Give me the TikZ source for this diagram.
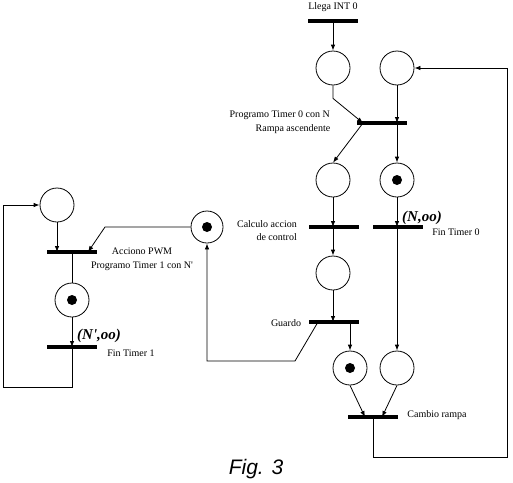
\documentclass[tikz,border=0pt]{standalone}
\usepackage{fontspec}
\setmainfont{Liberation Serif}
\newfontfamily\figfont{Liberation Sans}
\usetikzlibrary{arrows.meta,calc}
\begin{document}
\begin{tikzpicture}[x=1pt,y=-1pt,
 place/.style={circle,draw,line width=0.8pt,minimum size=34pt,inner sep=0pt},
 tok/.style={circle,fill,minimum size=10pt,inner sep=0pt},
 trans/.style={fill,minimum width=50pt,minimum height=3.6pt,inner sep=0pt},
 arr/.style={-{Latex[length=6pt,width=4.5pt]},line width=0.8pt},
 ln/.style={line width=0.8pt},
 lbl/.style={font=\fontsize{10}{11}\selectfont,inner sep=0pt},
 big/.style={font=\fontsize{15}{16}\selectfont\bfseries\itshape,inner sep=0pt}]
\useasboundingbox (0,0) rectangle (513,482);
% transitions
\node[trans] (T1) at (333,21) {};
\node[trans] (T2) at (382,123) {};
\node[trans] (T3) at (334,227) {};
\node[trans] (T4) at (398,227) {};
\node[trans] (T5) at (334,322) {};
\node[trans] (T6) at (373,417) {};
\node[trans] (T7) at (72,252) {};
\node[trans] (T8) at (72,347) {};
% places
\node[place] (P1) at (333,68) {};
\node[place] (P2) at (397,68) {};
\node[place] (P3) at (333,180) {};
\node[place] (P4) at (397,180) {};
\node[tok] (P4t) at (P4) {};
\node[place] (P5) at (333,273) {};
\node[place] (P6) at (350,368) {};
\node[tok] (P6t) at (P6) {};
\node[place] (P7) at (397,368) {};
\node[place,minimum size=32pt] (PC) at (207,227) {};
\node[tok] (PCt) at (PC) {};
\node[place] (P8) at (57,205) {};
\node[place] (P9) at (72,300) {};
\node[tok] (P9t) at (P9) {};
% helper coordinates
\coordinate (rc) at (507,457);
\coordinate (g1) at (295,361);
\coordinate (c1) at (105,227);
\coordinate (lc) at (3,387);
% connectors
\draw[arr] (T1.center) -- (P1.north);
\draw[arr] (P1.south) -- ++(0,13) -- ([xshift=-19pt]T2.center);
\draw[arr] (P2.south) -- (P2.south |- T2.center);
\draw[arr] ([xshift=-19pt]T2.center) -- (P3.north);
\draw[arr] (P4.north |- T2.center) -- (P4.north);
\draw[arr] (P3.south) -- (P3.south |- T3.center);
\draw[arr] (P4.south) -- (P4.south |- T4.center);
\draw[arr] (P5.north |- T3.center) -- (P5.north);
\draw[arr] (P5.south) -- (P5.south |- T5.center);
\draw[arr] (P7.north |- T4.center) -- (P7.north);
\draw[arr] (P6.north |- T5.center) -- (P6.north);
\draw[arr] (P6.south) -- ([xshift=-8pt]T6.center);
\draw[arr] (P7.south) -- ([xshift=9pt]T6.center);
\draw[arr] (T6.center) |- (rc) |- (P2.east);
\draw[arr] ([xshift=-16pt]T5.center) -- (g1) -| (PC.south);
\draw[arr] (PC.west) -- (c1) -- ([xshift=16pt]T7.center);
\draw[arr] (P8.south) -- (P8.south |- T7.center);
\draw[ln] (T7.center) -- (P9.north);
\draw[arr] (P9.south) -- (P9.south |- T8.center);
\draw[arr] (T8.center) |- (lc) |- (P8.west);
% labels
\node[lbl] (L1) at (333,7) {Llega INT 0};
\node[lbl,anchor=east] (L2) at (330,115) {Programo Timer 0 con N};
\node[lbl] (L3) at (293,129) {Rampa ascendente};
\node[lbl,anchor=east] (L4) at (297,224) {Calculo accion};
\node[lbl,anchor=east] (L5) at (297,237) {de control};
\node[big,anchor=west] (L6) at (402,218) {(N,oo)};
\node[lbl] (L7) at (456,232) {Fin Timer 0};
\node[lbl] (L8) at (286,323) {Guardo};
\node[lbl] (L9) at (437,415) {Cambio rampa};
\node[lbl] (L10) at (142,251) {Acciono PWM};
\node[lbl] (L11) at (142,266) {Programo Timer 1 con N\textquotesingle};
\node[big,anchor=west] (L12) at (77,336) {(N\textquotesingle,oo)};
\node[lbl] (L13) at (131,353) {Fin Timer 1};
\node[font=\figfont\itshape\fontsize{21}{24}\selectfont,inner sep=0pt] (FIG) at (256,469) {Fig. 3};
\end{tikzpicture}
\end{document}
